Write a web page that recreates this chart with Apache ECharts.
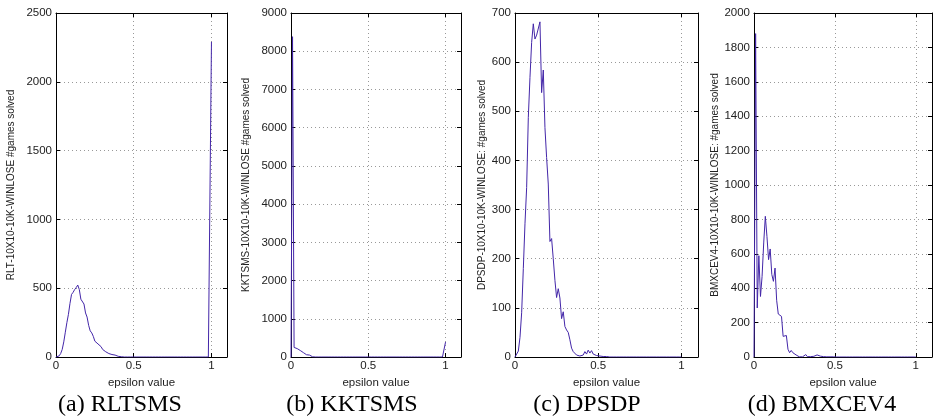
<!DOCTYPE html>
<html><head><meta charset="utf-8">
<script src="https://cdn.jsdelivr.net/npm/echarts@6/dist/echarts.min.js"></script>
<style>html,body{margin:0;padding:0;background:#fff}#c{width:936px;height:420px}</style>
</head><body><div id="c"></div>
<script>
const epsilon = [0,0.01,0.02,0.03,0.04,0.05,0.06,0.07,0.08,0.09,
0.1,0.11,0.12,0.13,0.14,0.15,0.16,0.17,0.18,0.19,
0.2,0.21,0.22,0.23,0.24,0.25,0.26,0.27,0.28,0.29,
0.3,0.31,0.32,0.33,0.34,0.35,0.36,0.37,0.38,0.39,
0.4,0.41,0.42,0.43,0.44,0.45,0.46,0.47,0.48,0.49,
0.5,0.51,0.52,0.53,0.54,0.55,0.56,0.57,0.58,0.59,
0.6,0.61,0.62,0.63,0.64,0.65,0.66,0.67,0.68,0.69,
0.7,0.71,0.72,0.73,0.74,0.75,0.76,0.77,0.78,0.79,
0.8,0.81,0.82,0.83,0.84,0.85,0.86,0.87,0.88,0.89,
0.9,0.91,0.92,0.93,0.94,0.95,0.96,0.97,0.98,0.99,
1];
const rltsmsGames = [0,2,8,25,55,110,180,250,310,390,
455,470,490,505,523,490,420,430,385,320,
290,230,190,175,150,115,110,95,85,75,
55,50,38,40,25,27,18,15,14,8,
5,3,2,1,0,0,0,0,0,0,
0,0,0,0,0,0,0,0,0,0,
0,0,0,0,0,0,0,0,0,0,
0,0,0,0,0,0,0,0,0,0,
0,0,0,0,0,0,0,0,0,0,
0,0,0,0,0,0,0,0,0,0,
2290];
const kktsmsGames = [0,8380,250,235,220,200,170,140,115,90,
60,50,50,20,5,2,0,0,0,0,
0,0,0,0,0,0,0,0,0,0,
0,0,0,0,0,0,0,0,0,0,
0,0,0,0,0,0,0,0,0,0,
0,0,0,0,0,0,0,0,0,0,
0,0,0,0,0,0,0,0,0,0,
0,0,0,0,0,0,0,0,0,0,
0,0,0,0,0,0,0,0,0,0,
0,0,0,0,0,0,0,0,0,0,
390];
const dpsdpGames = [0,2,12,40,90,180,271,345,487,569,
640,678,647,655,658,682,538,584,467,406,
352,235,241,200,156,121,139,120,78,92,
62,55,50,35,18,11,11,4,8,2,
6,4,11,6,14,8,13,6,10,3,
4,2,2,1,1,1,0,0,0,0,
0,0,0,0,0,0,0,0,0,0,
0,0,0,0,0,0,0,0,0,0,
0,0,0,0,0,0,0,0,0,0,
0,0,0,0,0,0,0,0,0,0,
0];
const bmxcev4Games = [0,1880,285,589,352,469,663,818,701,566,
628,480,440,517,330,250,245,236,120,130,
125,45,25,38,25,15,12,3,1,1,
1,2,14,2,2,2,2,4,10,12,
7,5,3,2,2,1,1,1,1,1,
1,0,0,0,0,0,0,0,0,0,
0,0,0,0,0,0,0,0,0,0,
0,0,0,0,0,0,0,0,0,0,
0,0,0,0,0,0,0,0,0,0,
0,0,0,0,0,0,0,0,0,0,
0];
const yAxisNames = ['RLT-10X10-10K-WINLOSE #games solved','KKTSMS-10X10-10K-WINLOSE #games solved','DPSDP-10X10-10K-WINLOSE: #games solved','BMXCEV4-10X10-10K-WINLOSE: #games solved'];
const xAxisName = 'epsilon value';
const captions = ['(a) RLTSMS','(b) KKTSMS','(c) DPSDP','(d) BMXCEV4'];
const yMax = [2500,9000,700,2000];
const yStep = [500,1000,100,200];
const xMax = 1.1, xStep = 0.5;

const seriesValues = [rltsmsGames,kktsmsGames,dpsdpGames,bmxcev4Games];
const layout = [
  {left:56, width:171, nameGap:40, cap:120},
  {left:291, width:170, nameGap:40, cap:352},
  {left:515, width:183, nameGap:28, cap:587},
  {left:754, width:178, nameGap:33, cap:822}
];
const TOP = 13, HEIGHT = 344;
const FONT = 'Liberation Sans';
const LINE = '#4326a8';
const plain = v => String(v);

const grid = [], xAxis = [], yAxis = [], series = [], graphic = [];
layout.forEach((L, i) => {
  grid.push({left:L.left, top:TOP, width:L.width, height:HEIGHT, containLabel:false});
  const gridLine = {show:true, lineStyle:{color:'#999', width:1, type:[1,3]}};
  xAxis.push({type:'value', gridIndex:i, min:0, max:xMax, interval:xStep, position:'bottom',
    name:xAxisName, nameLocation:'middle', nameGap:14,
    nameTextStyle:{fontFamily:FONT, fontSize:11.5, color:'#222'},
    axisLine:{show:true, onZero:false, lineStyle:{color:'#000', width:1}},
    axisTick:{show:true, inside:true, length:4, lineStyle:{color:'#000'}},
    axisLabel:{show:true, margin:3, fontFamily:FONT, fontSize:11.5, color:'#222', showMaxLabel:false, formatter:plain},
    splitLine:gridLine});
  xAxis.push({type:'value', gridIndex:i, min:0, max:xMax, interval:xStep, position:'top',
    axisLine:{show:true, onZero:false, lineStyle:{color:'#000', width:1}},
    axisTick:{show:true, inside:true, length:4, lineStyle:{color:'#000'}},
    axisLabel:{show:false}, splitLine:{show:false}});
  yAxis.push({type:'value', gridIndex:i, min:0, max:yMax[i], interval:yStep[i], position:'left',
    name:yAxisNames[i], nameLocation:'middle', nameGap:L.nameGap, nameRotate:90,
    nameTextStyle:{fontFamily:FONT, fontSize:10, color:'#222'},
    axisLine:{show:true, onZero:false, lineStyle:{color:'#000', width:1}},
    axisTick:{show:true, inside:true, length:4, lineStyle:{color:'#000'}},
    axisLabel:{show:true, margin:4, fontFamily:FONT, fontSize:11.5, color:'#222', formatter:plain},
    splitLine:gridLine});
  yAxis.push({type:'value', gridIndex:i, min:0, max:yMax[i], interval:yStep[i], position:'right',
    axisLine:{show:true, onZero:false, lineStyle:{color:'#000', width:1}},
    axisTick:{show:true, inside:true, length:4, lineStyle:{color:'#000'}},
    axisLabel:{show:false}, splitLine:{show:false}});
  series.push({type:'line', xAxisIndex:2*i, yAxisIndex:2*i, showSymbol:false, animation:false,
    lineStyle:{color:LINE, width:1}, itemStyle:{color:LINE},
    data: epsilon.map((e, k) => [e, seriesValues[i][k]])});
  graphic.push({type:'text', x:L.cap, y:405,
    style:{text:captions[i], fontFamily:'Liberation Serif', fontSize:24, fill:'#000', align:'center', verticalAlign:'middle'}});
});

const chart = echarts.init(document.getElementById('c'), null, {renderer:'canvas'});
chart.setOption({backgroundColor:'#fff', animation:false, grid, xAxis, yAxis, series, graphic});
</script></body></html>
